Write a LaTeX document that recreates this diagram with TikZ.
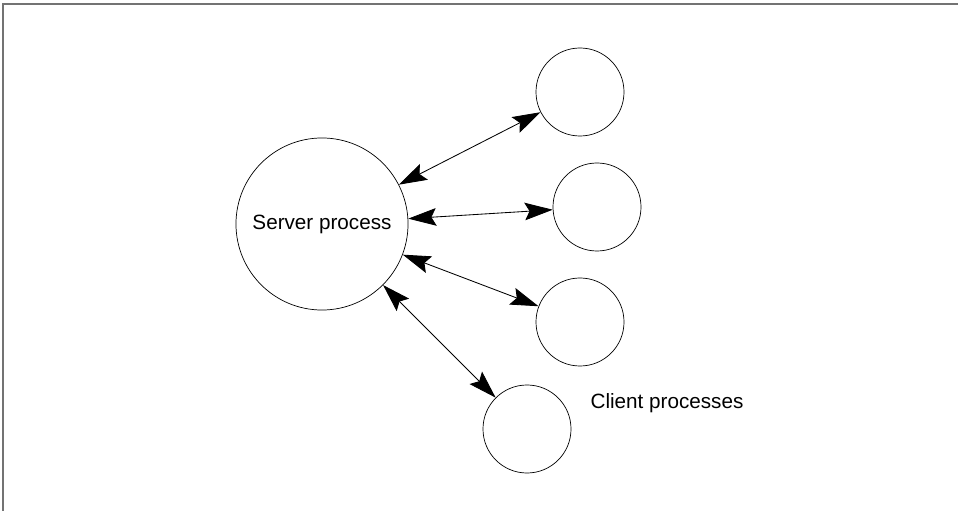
\documentclass[tikz,border=0pt]{standalone}
\usepackage{fontspec}
\setmainfont{Liberation Sans}
\usepackage{tikz}
\usetikzlibrary{arrows.meta}
\usetikzlibrary{positioning}

\begin{document}
\begin{tikzpicture}[x=0.025cm, y=-0.025cm,
		font=\fontsize{14.7}{17}\selectfont,
		process/.style={circle, draw=black, line width=0.5pt, inner sep=0pt},
		client/.style={process, minimum size=2.2cm},
		link/.style={<->, >={Stealth[length=7mm,width=4.4mm,inset=1.2mm]}, line width=0.6pt},
	]
		
		\useasboundingbox (0,0) rectangle (961,511);
		\draw[black!55, line width=0.8pt] (958,4) -- (3,4) -- (3,511);
		
		\node[process, minimum size=4.3cm] (server) at (322,224) {Server process};
		\node[client] (client1) at (580,92)  {};
		\node[client] (client2) at (597,207) {};
		\node[client] (client3) at (580,322) {};
		\node[client] (client4) at (527,429) {};
		\node (clients) at (667,403) {Client processes};
		
		\draw[link] (server) -- (client1);
		\draw[link] (server) -- (client2);
		\draw[link] (server) -- (client3);
		\draw[link] (server) -- (client4);
		
	\end{tikzpicture}
\end{document}
